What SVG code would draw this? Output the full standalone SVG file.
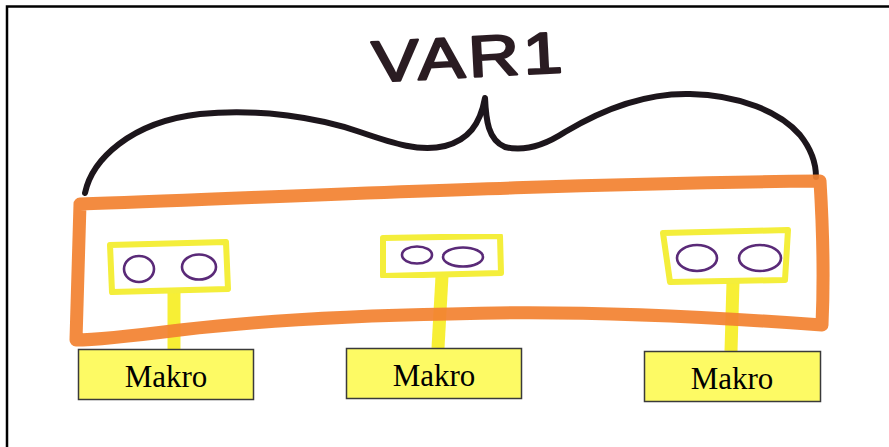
<svg xmlns="http://www.w3.org/2000/svg" width="889" height="447" viewBox="0 0 889 447">
  <defs>
    <filter id="soft" x="-5%" y="-5%" width="110%" height="110%">
      <feGaussianBlur stdDeviation="0.6"/>
    </filter>
    <style>
      .frame { fill: none; stroke: #000; stroke-width: 2.5; }
      .ink { fill: none; stroke: #1f141a; stroke-width: 6; stroke-linecap: round; stroke-linejoin: round; }
      .title { font-family: "Liberation Sans", Arial, sans-serif; font-weight: normal; font-size: 58px; fill: #2a1b22; stroke: #2a1b22; stroke-width: 2.2; stroke-linejoin: round; }
      .container { fill: none; stroke: #f2812f; stroke-width: 13; stroke-linejoin: round; stroke-linecap: round; opacity: 0.92; }
      .module { fill: none; stroke: #f4ee3a; stroke-width: 6; stroke-linejoin: round; }
      .eye { fill: none; stroke: #5a2a78; stroke-width: 2.6; }
      .stem { fill: none; stroke: #f7ef36; stroke-width: 13; stroke-linecap: butt; }
      .makro rect { fill: #fdfa64; stroke: #3a3a3a; stroke-width: 1.5; }
      .makro text { font-family: "Liberation Serif", "Times New Roman", serif; font-size: 31px; fill: #000; text-anchor: middle; }
    </style>
  </defs>

  <rect x="0" y="0" width="889" height="447" fill="#fff"/>
  <path class="frame" d="M7,447 V6.5 H889"/>

  <!-- heading -->
  <g id="title" filter="url(#soft)">
    <text class="title" transform="translate(470,77) rotate(-3) scale(1.22,1)" text-anchor="middle" letter-spacing="3">VAR1</text>
  </g>

  <!-- curly brace spanning the container -->
  <g id="brace" filter="url(#soft)">
    <path class="ink" d="M85,193 C92,160 130,122 200,114 C260,108 320,118 360,132 C395,144 420,152 445,146 C468,140 480,125 485,98 C486,120 488,140 505,147 C525,152 545,145 565,132 C610,105 650,93 690,94 C740,95 780,112 800,135 C812,150 816,165 816,177"/>
  </g>

  <!-- connectors: yellow stems from each module down to its Makro box -->
  <g id="connectors" filter="url(#soft)">
    <path class="stem" d="M174,292 L174,349"/>
    <path class="stem" d="M442,276 L438,348"/>
    <path class="stem" d="M733,282 L731,351"/>
  </g>

  <!-- orange container -->
  <g id="container" filter="url(#soft)">
    <path class="container" d="M80,204 C300,196 550,184 820,181 C823,230 824,280 822,325 C700,316 560,310 450,314 C330,316 250,322 180,330 C140,335 100,340 76,340 C77,295 79,250 80,204 Z"/>
  </g>

  <!-- modules inside the container -->
  <g id="module-1" filter="url(#soft)">
    <path class="module" d="M110,245 L226,242 L228,289 L112,292 Z"/>
    <ellipse class="eye" cx="139" cy="269" rx="15" ry="13"/>
    <ellipse class="eye" cx="199" cy="267" rx="17" ry="12.5"/>
  </g>
  <g id="module-2" filter="url(#soft)">
    <path class="module" d="M383,238 L500,236 L501,273 L383,276 Z"/>
    <ellipse class="eye" cx="417" cy="255" rx="15" ry="8.5"/>
    <ellipse class="eye" cx="463" cy="257" rx="20" ry="9.5"/>
  </g>
  <g id="module-3" filter="url(#soft)">
    <path class="module" d="M663,233 L788,230 L785,280 L670,282 Z"/>
    <ellipse class="eye" cx="697" cy="258" rx="20" ry="13"/>
    <ellipse class="eye" cx="760" cy="258" rx="21" ry="13"/>
  </g>

  <!-- Makro boxes -->
  <g id="makro-1" class="makro">
    <rect x="78.5" y="349.5" width="175" height="50"/>
    <text x="166" y="387">Makro</text>
  </g>
  <g id="makro-2" class="makro">
    <rect x="346.5" y="348.5" width="175" height="50"/>
    <text x="434" y="386">Makro</text>
  </g>
  <g id="makro-3" class="makro">
    <rect x="644.5" y="351.5" width="176" height="50"/>
    <text x="732" y="389">Makro</text>
  </g>
</svg>
